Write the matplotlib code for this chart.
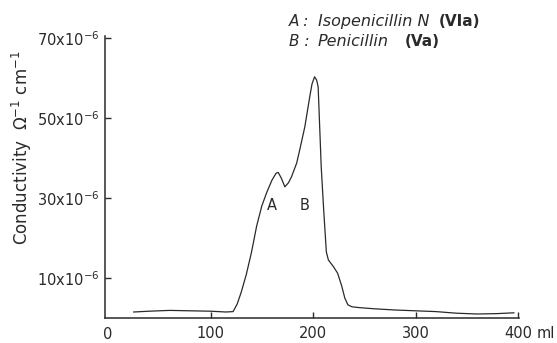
"""
Conductivity elution profile: Isopenicillin N (A) and Penicillin (B).
"""
import numpy as np
import matplotlib
matplotlib.use('Agg')
import matplotlib.pyplot as plt

# === DONNÉES ===
volume_ml = [25, 40, 60, 80, 100, 115, 122, 126, 130, 135, 140, 145, 150,
             155, 160, 164, 166, 169, 172.5, 176, 179, 184, 187, 192, 196.8,
             199, 201.5, 203.5, 205, 206.5, 208, 210.4, 213, 215, 220, 224,
             228, 231, 234, 238, 245, 260, 280, 300, 320, 340, 360, 380, 396]
conductivity = [1.5, 1.7, 1.9, 1.8, 1.7, 1.5, 1.6, 3.5, 6.5, 11, 16.5, 23, 28,
                31.5, 34.5, 36.2, 36.4, 35, 32.8, 33.8, 35.3, 38.7, 42, 47.8, 55.3,
                58.5, 60.3, 59.5, 57.8, 47.8, 37.8, 27, 16.5, 14.5, 12.8, 11.2,
                8, 5, 3.3, 2.8, 2.6, 2.3, 2.0, 1.8, 1.6, 1.2, 1.0, 1.1, 1.3]  # x 1e-6

x_ticks = [100, 200, 300, 400]
x_tick_labels = ['100', '200', '300', '400']
y_ticks = [10, 30, 50, 70]
y_tick_labels = [r'10x10$^{-6}$', r'30x10$^{-6}$', r'50x10$^{-6}$', r'70x10$^{-6}$']

peak_labels = ['A', 'B']
peak_label_pos = [(160, 28), (191.5, 28)]

legend_keys = ['A :', 'B :']
legend_names = ['Isopenicillin N', 'Penicillin']
legend_refs = ['(VIa)', '(Va)']
# =====================================

INK = '#2a2a2a'
W, H = 557, 343

fig = plt.figure(figsize=(W / 100, H / 100), dpi=100)
ax = fig.add_axes([105 / W, 1 - 318 / H, (519 - 105) / W, (318 - 36) / H])

ax.plot(volume_ml, conductivity, color=INK, lw=0.9)

ax.set_xlim(-3, 401)
ax.set_ylim(0, 70.5)

for side in ['top', 'right']:
    ax.spines[side].set_visible(False)
for side in ['left', 'bottom']:
    ax.spines[side].set_color(INK)
    ax.spines[side].set_linewidth(1.1)

ax.set_xticks(x_ticks)
ax.set_xticklabels(x_tick_labels)
ax.set_yticks(y_ticks)
ax.set_yticklabels(y_tick_labels)
ax.tick_params(direction='in', length=4, width=1, color=INK, labelcolor=INK,
               labelsize=10.5)
ax.tick_params(axis='x', pad=6)
ax.tick_params(axis='y', pad=4)

# étiquette "0" sous l'origine
ax.text(0, -2.3, '0', ha='center', va='top', fontsize=10.5, color=INK,
        transform=ax.transData, clip_on=False)
fig.text(537 / W, 1 - 334 / H, 'ml', ha='left', va='center', fontsize=10.5,
         color=INK)

for lab, (px, py) in zip(peak_labels, peak_label_pos):
    ax.text(px, py, lab, ha='center', va='center', fontsize=10.5, color=INK)

fig.text(22 / W, 1 - 148 / H, r'Conductivity  $\Omega^{-1}$ cm$^{-1}$',
         rotation=90, ha='center', va='center', fontsize=12, color=INK)

# légende en haut à droite
baselines = [26, 46]
ref_x = [439, 405]
for key, name, ref, yb, rx in zip(legend_keys, legend_names, legend_refs,
                                  baselines, ref_x):
    fig.text(289 / W, 1 - yb / H, key, style='italic', fontsize=11,
             color=INK, ha='left', va='baseline')
    fig.text(318 / W, 1 - yb / H, name, style='italic', fontsize=11.5,
             color=INK, ha='left', va='baseline')
    fig.text(rx / W, 1 - yb / H, ref, fontweight='bold', fontsize=11,
             color=INK, ha='left', va='baseline')

fig.savefig('out.png', dpi=100)
